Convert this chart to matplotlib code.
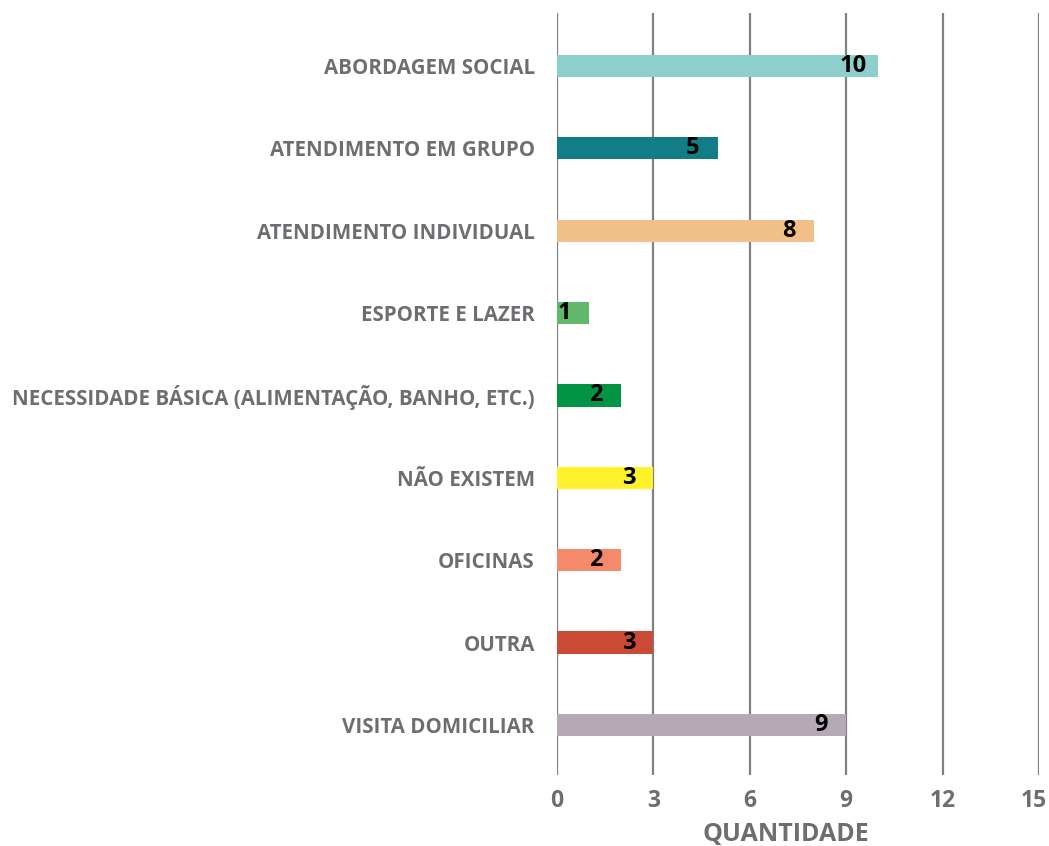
import matplotlib
matplotlib.use("Agg")
import matplotlib.pyplot as plt
import matplotlib.transforms as mtransforms

categories = ["ABORDAGEM SOCIAL", "ATENDIMENTO EM GRUPO", "ATENDIMENTO INDIVIDUAL",
              "ESPORTE E LAZER", "NECESSIDADE BÁSICA (ALIMENTAÇÃO, BANHO, ETC.)",
              "NÃO EXISTEM", "OFICINAS", "OUTRA", "VISITA DOMICILIAR"]
values = [10, 5, 8, 1, 2, 3, 2, 3, 9]
colors = ["#8ccfcc", "#127d87", "#f0c088", "#62b86a", "#009444",
          "#fff22d", "#f58a6b", "#cb4a35", "#b6a9b6"]
xticks = [0, 3, 6, 9, 12, 15]

plt.rcParams['font.family'] = ['Open Sans', 'DejaVu Sans']
W, H = 1049, 846
fig = plt.figure(figsize=(W/100, H/100), dpi=100)
left, right, top, bottom = 557, 1039, 13, 775
ax = fig.add_axes([left/W, 1-bottom/H, (right-left)/W, (bottom-top)/H])

y = list(range(len(categories)))
ax.barh(y, values, height=0.27, color=colors, zorder=2)
ax.set_ylim(8.607, -0.643)
ax.set_xlim(0, 15)
ax.set_xticks(xticks)
ax.set_xticklabels([str(t) for t in xticks], fontsize=16.5, fontweight='bold', color='#6d6e71')
ax.set_yticks(y)
ax.set_yticklabels(categories, fontsize=14.8, fontweight='bold', color='#6d6e71')
ax.tick_params(axis='both', length=0)
ax.tick_params(axis='y', pad=16)
ax.tick_params(axis='x', pad=10)
ax.grid(axis='x', color='#808083', linewidth=1.6, zorder=0)
ax.set_axisbelow(True)
for s in ax.spines.values():
    s.set_visible(False)

last = ax.get_xticklabels()[-1]
last.set_transform(last.get_transform() + mtransforms.ScaledTranslation(-5.5/100, 0, fig.dpi_scale_trans))

for yi, v in zip(y, values):
    ax.annotate(str(v), xy=(v, yi), xytext=(-18, 0), textcoords='offset points',
                ha='center', va='center', fontsize=17, fontweight='bold', color='black', zorder=3)

ax.set_xlabel("QUANTIDADE", fontsize=18, fontweight='bold', color='#6d6e71')
ax.xaxis.set_label_coords(0.475, -0.062)

fig.savefig("out.png", dpi=100)
